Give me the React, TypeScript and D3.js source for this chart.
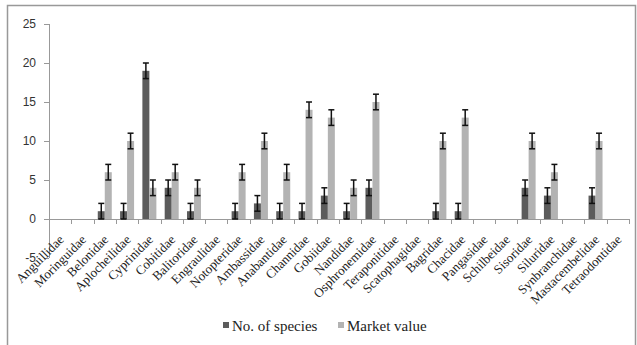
import React from "react";
import * as d3 from "d3";

const families = [
  "Anguillidae", "Moringuidae", "Belonidae", "Aplocheilidae", "Cyprinidae",
  "Cobitidae", "Balitoridae", "Engraulidae", "Notopteridae", "Ambassidae",
  "Anabantidae", "Channidae", "Gobiidae", "Nandidae", "Osphronemidae",
  "Teraponitidae", "Scatophagidae", "Bagridae", "Chacidae", "Pangasidae",
  "Schilbeidae", "Sisoridae", "Siluridae", "Synbranchidae", "Mastacembelidae",
  "Tetraodontidae",
];
const speciesCount = [0, 0, 1, 1, 19, 4, 1, 0, 1, 2, 1, 1, 3, 1, 4, 0, 0, 1, 1, 0, 0, 4, 3, 0, 3, 0];
const marketValue = [0, 0, 6, 10, 4, 6, 4, 0, 6, 10, 6, 14, 13, 4, 15, 0, 0, 10, 13, 0, 0, 10, 6, 0, 10, 0];
const errorSize = 1;
const yTicks = [-5, 0, 5, 10, 15, 20, 25];
const seriesNames = ["No. of species", "Market value"];
const seriesColors = ["#5c5c5c", "#b3b3b3"];

const W = 637;
const H = 345;
const plotLeft = 49;
const plotRight = 629;

export default function App() {
  const x = d3.scaleBand<string>().domain(families).range([plotLeft, plotRight]).padding(0);
  const y = d3.scaleLinear().domain([-5, 25]).range([258, 24]);
  const series = [speciesCount, marketValue];
  const barW = 7;
  const sub = d3.scaleBand<number>().domain([0, 1]).range([-barW, barW]);
  const boundaries = d3.range(families.length + 1).map((i) => plotLeft + i * x.bandwidth());
  const serif = "'Liberation Serif', 'Times New Roman', serif";
  const sans = "'Liberation Sans', Arial, sans-serif";

  return (
    <svg width={W} height={H} style={{ position: "absolute", left: 0, top: 0, background: "#fff" }}>
      <rect x={7.5} y={5.5} width={628} height={360} fill="#fff" stroke="#999" strokeWidth={1.5} />

      {/* y axis */}
      <line x1={plotLeft + 0.5} x2={plotLeft + 0.5} y1={y(25)} y2={y(-5)} stroke="#999" />
      {yTicks.map((t) => (
        <g key={t}>
          <line x1={plotLeft - 5} x2={plotLeft} y1={Math.round(y(t)) + 0.5} y2={Math.round(y(t)) + 0.5} stroke="#999" />
          <text x={36} y={y(t)} dy="0.36em" textAnchor="end" fontFamily={sans} fontSize={12} fill="#333">
            {t}
          </text>
        </g>
      ))}

      {/* bars */}
      {families.map((f, i) => {
        const cx = (x(f) as number) + x.bandwidth() / 2;
        return (
          <g key={f}>
            {series.map((vals, s) => {
              const v = vals[i];
              if (!v) return null;
              const bx = cx + (sub(s) as number);
              return (
                <rect key={s} x={bx} y={y(v)} width={sub.bandwidth()} height={y(0) - y(v)} fill={seriesColors[s]} />
              );
            })}
          </g>
        );
      })}

      {/* x axis */}
      <line x1={plotLeft} x2={plotRight} y1={y(0) + 0.5} y2={y(0) + 0.5} stroke="#999" />
      {boundaries.map((bx, i) => (
        <line key={i} x1={Math.round(bx) + 0.5} x2={Math.round(bx) + 0.5} y1={y(0)} y2={y(0) + 5} stroke="#999" />
      ))}

      {/* error bars */}
      {families.map((f, i) => {
        const cx = (x(f) as number) + x.bandwidth() / 2;
        return series.map((vals, s) => {
          const v = vals[i];
          if (!v) return null;
          const ex = cx + (sub(s) as number) + sub.bandwidth() / 2;
          return (
            <g key={f + s} stroke="#111" strokeWidth={1.5}>
              <line x1={ex} x2={ex} y1={y(v + errorSize)} y2={y(v - errorSize)} />
              <line x1={ex - 3} x2={ex + 3} y1={y(v + errorSize)} y2={y(v + errorSize)} />
              <line x1={ex - 3} x2={ex + 3} y1={y(v - errorSize)} y2={y(v - errorSize)} />
            </g>
          );
        });
      })}

      {/* category labels */}
      {families.map((f) => {
        const cx = (x(f) as number) + x.bandwidth() / 2;
        return (
          <text
            key={f}
            transform={`translate(${cx - 2},${y(0) + 15}) rotate(-45)`}
            dy="0.7em"
            textAnchor="end"
            fontFamily={serif}
            fontSize={13}
            fill="#222"
          >
            {f}
          </text>
        );
      })}

      {/* legend */}
      {seriesNames.map((name, s) => {
        const lx = s === 0 ? 223 : 338;
        return (
          <g key={name}>
            <rect x={lx} y={322} width={6} height={6} fill={seriesColors[s]} />
            <text x={lx + 9} y={331} fontFamily={serif} fontSize={15} fill="#222">
              {name}
            </text>
          </g>
        );
      })}
    </svg>
  );
}
